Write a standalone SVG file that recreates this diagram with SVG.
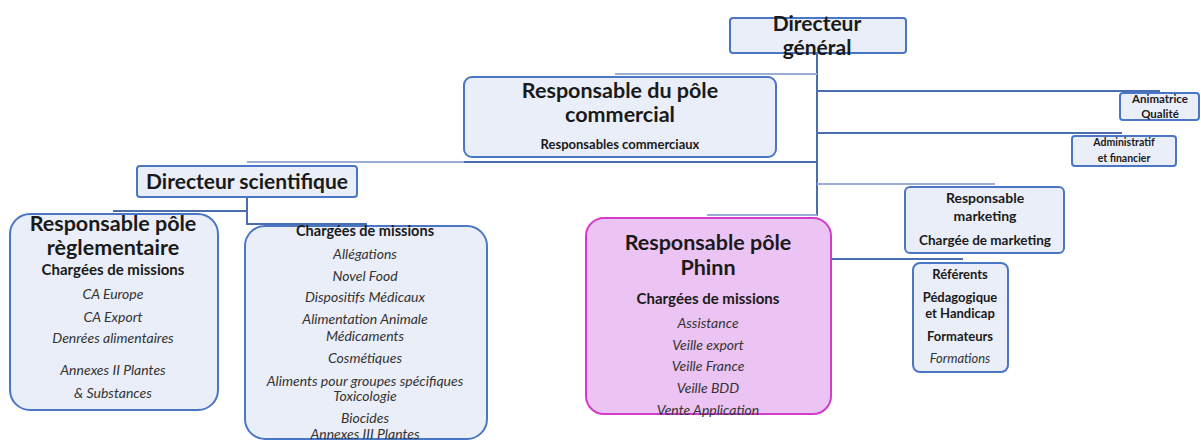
<svg xmlns="http://www.w3.org/2000/svg" width="1201" height="441" viewBox="0 0 1201 441">
<style>
.box{fill:#eaeef8;stroke:#4a76c6;stroke-width:2}
.pink{fill:#ecc4f4;stroke:#d13ccc;stroke-width:2}
.ln{stroke:#4a6db0;stroke-width:2;fill:none}
.lnl{stroke:#9aaed4;stroke-width:2;fill:none}
text{font-family:Lato,"Open Sans","Liberation Sans",sans-serif;fill:#1a1a1a;text-anchor:middle}
.h{font-weight:bold;font-size:21.5px}
.b{font-weight:bold;font-size:15px}
.s{font-weight:bold;font-size:13px}
.i{font-style:italic;font-size:14px;fill:#333}
</style>
<g id="connectors">
<path class="ln" d="M817 53V216"/>
<path class="lnl" d="M615 74H817"/>
<path class="lnl" d="M247 162H464"/>
<path class="ln" d="M464 162H817"/>
<path class="ln" d="M817 91H1160"/>
<path class="ln" d="M817 133H1122"/>
<path class="lnl" d="M817 184H995"/>
<path class="lnl" d="M707 215H817"/>
<path class="ln" d="M831 259H963"/>
<path class="ln" d="M247 197V224H367"/>
<path class="ln" d="M113 211H247"/>
</g>
<g id="directeur-general">
<rect class="box" x="730" y="18" width="176" height="35" rx="3"/>
<text class="h" x="817" y="31" style="font-size:21px">Directeur</text>
<text class="h" x="817" y="55" style="font-size:21px">général</text>
</g>
<g id="pole-commercial">
<rect class="box" x="464" y="77" width="312" height="80" rx="8"/>
<text class="h" x="620" y="98">Responsable du pôle</text>
<text class="h" x="620" y="122">commercial</text>
<text class="s" x="620" y="149">Responsables commerciaux</text>
</g>
<g id="animatrice-qualite">
<rect class="box" x="1120" y="93" width="79" height="27" rx="3"/>
<text class="s" x="1160" y="103" style="font-size:11.5px">Animatrice</text>
<text class="s" x="1160" y="118" style="font-size:11.5px">Qualité</text>
</g>
<g id="administratif">
<rect class="box" x="1072" y="136" width="104" height="30" rx="3"/>
<text class="s" x="1124" y="146" style="font-size:10.5px">Administratif</text>
<text class="s" x="1124" y="162" style="font-size:10.5px">et financier</text>
</g>
<g id="directeur-scientifique">
<rect class="box" x="137" y="166" width="220" height="31" rx="3"/>
<text class="h" x="247" y="189" style="font-size:21px">Directeur scientifique</text>
</g>
<g id="pole-reglementaire">
<rect class="box" x="10" y="214" width="208" height="196" rx="20"/>
<text class="h" x="113" y="231">Responsable pôle</text>
<text class="h" x="113" y="255">règlementaire</text>
<text class="b" x="113" y="275">Chargées de missions</text>
<text class="i" x="113" y="299">CA Europe</text>
<text class="i" x="113" y="322">CA Export</text>
<text class="i" x="113" y="343">Denrées alimentaires</text>
<text class="i" x="113" y="375">Annexes II Plantes</text>
<text class="i" x="113" y="398">&amp; Substances</text>
</g>
<g id="charges-missions">
<rect class="box" x="245" y="226" width="242" height="213" rx="20"/>
<text class="b" x="365" y="236" style="font-size:14.5px">Chargées de missions</text>
<text class="i" x="365" y="259">Allégations</text>
<text class="i" x="365" y="281">Novel Food</text>
<text class="i" x="365" y="302">Dispositifs Médicaux</text>
<text class="i" x="365" y="324">Alimentation Animale</text>
<text class="i" x="365" y="341">Médicaments</text>
<text class="i" x="365" y="363">Cosmétiques</text>
<text class="i" x="365" y="386">Aliments pour groupes spécifiques</text>
<text class="i" x="365" y="401">Toxicologie</text>
<text class="i" x="365" y="423">Biocides</text>
<text class="i" x="365" y="439">Annexes III Plantes</text>
</g>
<g id="pole-phinn">
<rect class="pink" x="586" y="218" width="245" height="196" rx="18"/>
<text class="h" x="708" y="250">Responsable pôle</text>
<text class="h" x="708" y="275">Phinn</text>
<text class="b" x="708" y="304">Chargées de missions</text>
<text class="i" x="708" y="328">Assistance</text>
<text class="i" x="708" y="350">Veille export</text>
<text class="i" x="708" y="371">Veille France</text>
<text class="i" x="708" y="393">Veille BDD</text>
<text class="i" x="708" y="415">Vente Application</text>
</g>
<g id="marketing">
<rect class="box" x="905" y="187" width="159" height="66" rx="5"/>
<text class="b" x="985" y="203" style="font-size:14px">Responsable</text>
<text class="b" x="985" y="221" style="font-size:14px">marketing</text>
<text class="s" x="985" y="245" style="font-size:13.5px">Chargée de marketing</text>
</g>
<g id="referents">
<rect class="box" x="913" y="263" width="95" height="109" rx="7"/>
<text class="s" x="960" y="279">Référents</text>
<text class="s" x="960" y="302">Pédagogique</text>
<text class="s" x="960" y="318">et Handicap</text>
<text class="s" x="960" y="341">Formateurs</text>
<text class="i" x="960" y="363" style="font-size:13px">Formations</text>
</g>
</svg>
